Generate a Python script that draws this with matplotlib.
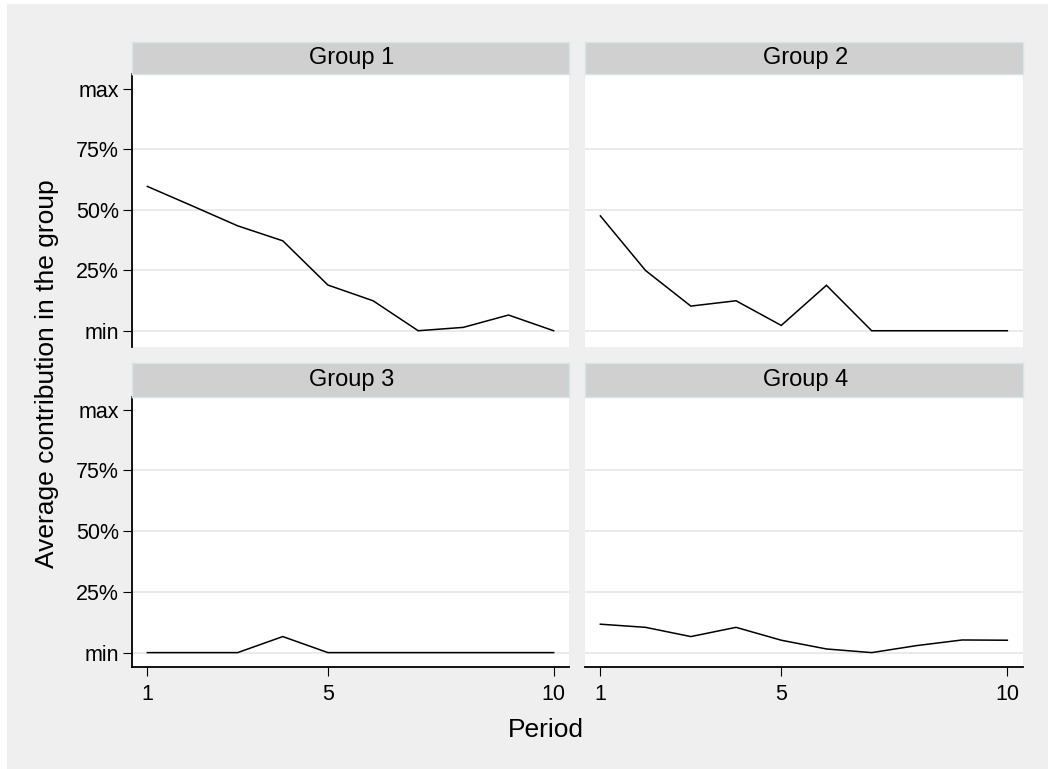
import matplotlib
matplotlib.use("Agg")
import matplotlib.pyplot as plt
from matplotlib.patches import Rectangle

plt.rcParams['font.family'] = ['Liberation Sans', 'DejaVu Sans']

# ---- data ----
periods = [1, 2, 3, 4, 5, 6, 7, 8, 9, 10]
group_titles = ["Group 1", "Group 2", "Group 3", "Group 4"]
group1 = [0.597, 0.516, 0.434, 0.372, 0.189, 0.124, 0.0, 0.014, 0.065, 0.0]
group2 = [0.475, 0.249, 0.102, 0.124, 0.022, 0.188, 0.0, 0.0, 0.0, 0.0]
group3 = [0.0, 0.0, 0.0, 0.066, 0.0, 0.0, 0.0, 0.0, 0.0, 0.0]
group4 = [0.117, 0.104, 0.066, 0.104, 0.051, 0.015, 0.0, 0.029, 0.052, 0.051]
y_ticks = [0, 0.25, 0.5, 0.75, 1.0]
y_ticklabels = ["min", "25%", "50%", "75%", "max"]
x_ticks = [1, 5, 10]
x_ticklabels = ["1", "5", "10"]
x_title = "Period"
y_title = "Average contribution in the group"

series = [group1, group2, group3, group4]

W, H = 1048, 769
fig = plt.figure(figsize=(W / 100, H / 100), dpi=100)
fig.patch.set_facecolor("white")

BG = "#efefef"
fig.patches.append(Rectangle((7 / W, 0), (W - 7) / W, (H - 4) / H,
                             transform=fig.transFigure, facecolor=BG,
                             edgecolor="none", zorder=-10))


def px_rect(x0, x1, y_top, y_bot):
    return [x0 / W, 1 - y_bot / H, (x1 - x0) / W, (y_bot - y_top) / H]


cols = [(132, 569), (585, 1022.7)]
rows = [  # strip top, strip bottom(=axes top), axes bottom, ylim
    (41.7, 74.0, 346.7, (-0.066, 1.062)),
    (363.3, 397.3, 666.7, (-0.058, 1.051)),
]

TICKFS = 15.5
STRIPFS = 17
for i, vals in enumerate(series):
    r, c = divmod(i, 2)
    x0, x1 = cols[c]
    st, sb, ab, ylim = rows[r]

    ax = fig.add_axes(px_rect(x0, x1, sb, ab))
    ax.set_facecolor("white")
    ax.plot(periods, vals, color="black", lw=1.1, solid_joinstyle="miter")
    ax.set_xlim(0.66, 10.34)
    ax.set_ylim(*ylim)

    ax.set_yticks(y_ticks)
    ax.set_yticklabels(y_ticklabels)
    ax.set_xticks(x_ticks)
    ax.set_xticklabels(x_ticklabels)
    ax.yaxis.grid(True, color="#e6e6e6", lw=1.2)
    ax.set_axisbelow(True)
    for gl in ax.get_ygridlines()[-1:]:
        gl.set_visible(False)

    for s in ax.spines.values():
        s.set_visible(False)
    if c == 0:
        ax.spines['left'].set_visible(True)
        ax.spines['left'].set_linewidth(1.3)
        ax.tick_params(axis='y', left=True, labelleft=True, length=6.7,
                       width=0.8, pad=2.5, labelsize=TICKFS)
    else:
        ax.tick_params(axis='y', left=False, labelleft=False)
    if r == 1:
        ax.spines['bottom'].set_visible(True)
        ax.spines['bottom'].set_linewidth(1.3)
        ax.tick_params(axis='x', bottom=True, labelbottom=True, length=6.7,
                       width=0.8, pad=5.5, labelsize=TICKFS)
    else:
        ax.tick_params(axis='x', bottom=False, labelbottom=False)

    # strip
    sax = fig.add_axes(px_rect(x0, x1, st, sb))
    sax.set_facecolor("#d0d0d0")
    sax.set_xticks([])
    sax.set_yticks([])
    for s in sax.spines.values():
        s.set_edgecolor("#d6e5ea")
        s.set_linewidth(1.0)
    fig.text((x0 + x1) / 2 / W + 1.5 / W, 1 - (st + 22.3) / H, group_titles[i],
             ha="center", va="baseline", fontsize=STRIPFS, color="black")

fig.text(545.5 / W, 1 - 736.7 / H, x_title, ha="center", va="baseline",
         fontsize=19, color="black")
fig.text(47.5 / W, 1 - 373.7 / H, y_title, ha="center", va="center",
         rotation=90, fontsize=19, color="black")

fig.savefig("out.png", dpi=100)
